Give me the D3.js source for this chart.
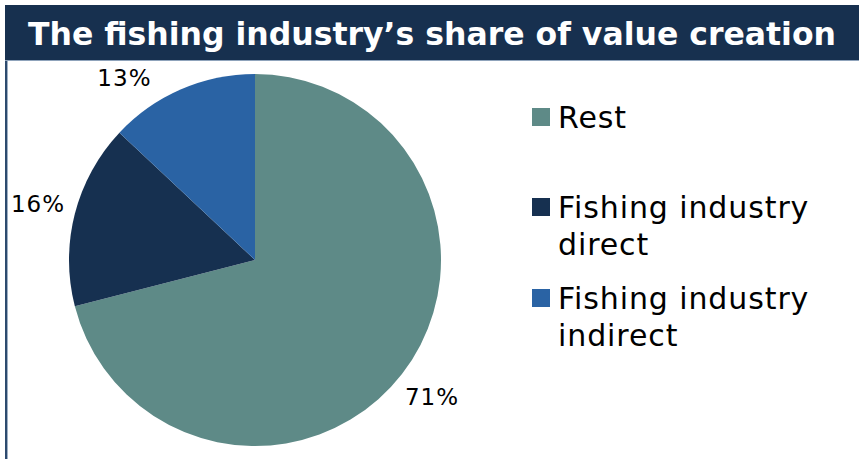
<!DOCTYPE html>
<html>
<head>
<meta charset="utf-8">
<script src="https://cdn.jsdelivr.net/npm/d3@7"></script>
<style>
  body { margin: 0; background: #fff; }
  svg { display: block; font-family: "DejaVu Sans", Verdana, sans-serif; }
</style>
</head>
<body>
<div id="chart"></div>
<script>
const title = "The fishing industry’s share of value creation";
const categories = ["Rest", "Fishing industry direct", "Fishing industry indirect"];
const legendLines = [["Rest"], ["Fishing industry", "direct"], ["Fishing industry", "indirect"]];
const values = [71, 16, 13];
const colors = ["#5e8a87", "#163050", "#2a63a4"];

const W = 859, H = 459;
const svg = d3.select("#chart").append("svg")
    .attr("width", W)
    .attr("height", H);

// title bar
svg.append("rect")
    .attr("x", 5).attr("y", 5)
    .attr("width", W - 5).attr("height", 55)
    .attr("fill", "#17304f");
svg.append("line")
    .attr("x1", 5).attr("x2", W)
    .attr("y1", 60.5).attr("y2", 60.5)
    .attr("stroke", "#8fa3bb").attr("stroke-width", 1);
// left frame line
svg.append("rect")
    .attr("x", 5).attr("y", 61)
    .attr("width", 2).attr("height", H - 61)
    .attr("fill", "#2d4a6e");
svg.append("line")
    .attr("x1", 7.5).attr("x2", 7.5)
    .attr("y1", 61).attr("y2", H)
    .attr("stroke", "#9fb0c4").attr("stroke-width", 1);

const titleText = svg.append("text")
    .attr("x", 28).attr("y", 45)
    .attr("fill", "#fff")
    .attr("font-weight", "bold")
    .attr("font-size", 30)
    .text(title);
const tw = titleText.node().getComputedTextLength();
titleText.attr("font-size", 30 * 808 / tw);

// pie
const cx = 255, cy = 260, r = 186;
const pie = d3.pie().sort(null).value(d => d);
const arcs = pie(values);
const arc = d3.arc().innerRadius(0).outerRadius(r);

const g = svg.append("g").attr("transform", `translate(${cx},${cy})`);
g.selectAll("path")
    .data(arcs)
    .enter()
    .append("path")
    .attr("d", arc)
    .attr("fill", (d, i) => colors[i]);

// outside labels, slid along the label circle to stay inside the plot area
const labelR = r + 38;
const plotTop = 62 - cy;
g.selectAll(".label")
    .data(arcs)
    .enter()
    .append("text")
    .attr("class", "label")
    .attr("font-size", 23)
    .attr("letter-spacing", 1)
    .attr("fill", "#000")
    .attr("text-anchor", "middle")
    .attr("dy", "0.35em")
    .each(function(d) {
        const a = (d.startAngle + d.endAngle) / 2;
        let x = labelR * Math.sin(a);
        let y = -labelR * Math.cos(a);
        const minY = plotTop + 16;
        if (y < minY) {
            y = minY;
            x = Math.sign(x) * Math.sqrt(labelR * labelR - y * y);
        }
        d3.select(this).attr("x", x).attr("y", y);
    })
    .text(d => d.data + "%");

// legend
const legendX = 532;
const legendRows = [126, 216, 307];
const legend = svg.append("g");
categories.forEach(function(c, i) {
    const row = legend.append("g");
    row.append("rect")
        .attr("x", legendX).attr("y", legendRows[i] - 18)
        .attr("width", 18).attr("height", 18)
        .attr("fill", colors[i]);
    legendLines[i].forEach(function(line, j) {
        row.append("text")
            .attr("x", legendX + 26)
            .attr("y", legendRows[i] + 2 + j * 37)
            .attr("font-size", 30)
            .attr("letter-spacing", 0.9)
            .attr("fill", "#000")
            .text(line);
    });
});
</script>
</body>
</html>
